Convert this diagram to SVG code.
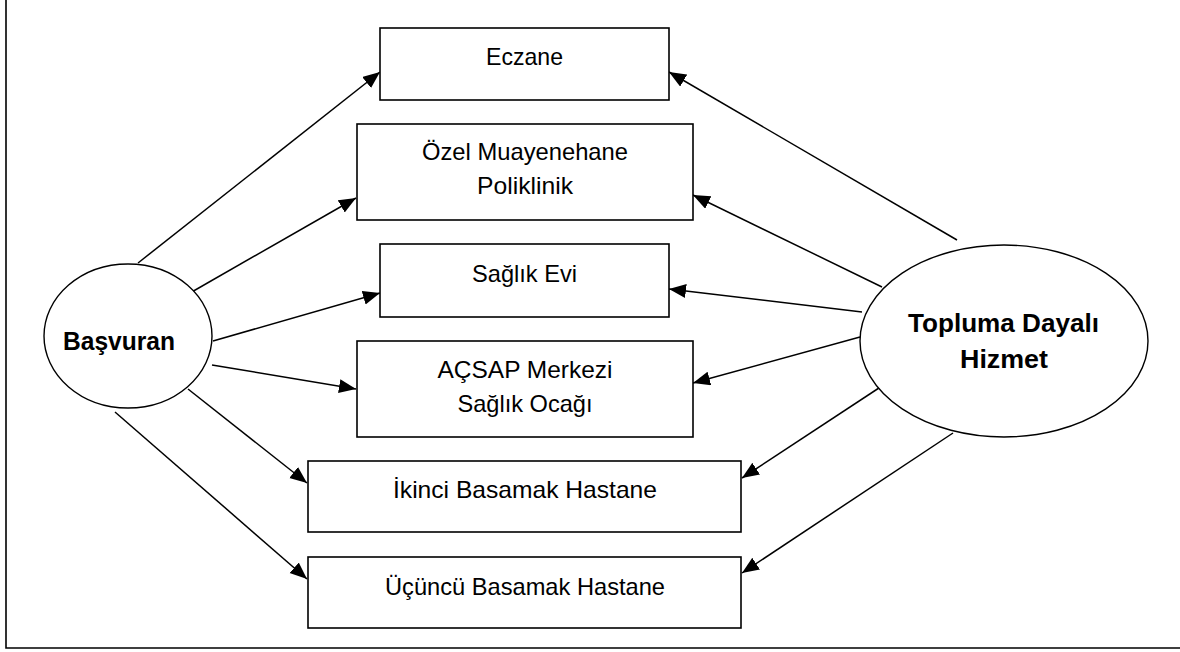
<svg xmlns="http://www.w3.org/2000/svg" width="1180" height="652" viewBox="0 0 1180 652">
<style>
.box{fill:#fff;stroke:#000;stroke-width:1.6}
.ell{fill:#fff;stroke:#000;stroke-width:1.4}
.lbl{font-family:"Liberation Sans",Arial,sans-serif;font-size:24px;fill:#000;text-anchor:middle}
.bold{font-family:"Liberation Sans",Arial,sans-serif;font-size:26px;font-weight:bold;fill:#000;text-anchor:middle}
.con{stroke:#000;stroke-width:1.5;fill:none;marker-end:url(#arr)}
.frame{fill:none;stroke:#000;stroke-width:1.6}
</style>
<defs>
<marker id="arr" markerUnits="userSpaceOnUse" markerWidth="18" markerHeight="15" refX="17" refY="7" orient="auto">
<path d="M0,0 L17,7 L0,14 z" fill="#000"/>
</marker>
</defs>
<rect x="0" y="0" width="1180" height="652" fill="#fff"/>
<polyline class="frame" points="6,0 6,648 1180,648"/>

<g id="connectors">
<line class="con" x1="138" y1="263" x2="380" y2="72"/>
<line class="con" x1="190" y1="293" x2="356" y2="198"/>
<line class="con" x1="213" y1="341" x2="380" y2="293"/>
<line class="con" x1="212" y1="365" x2="356" y2="389"/>
<line class="con" x1="188" y1="389" x2="307" y2="483"/>
<line class="con" x1="115" y1="412" x2="307" y2="579"/>
<line class="con" x1="957" y1="240" x2="669" y2="72"/>
<line class="con" x1="882" y1="287" x2="693" y2="195"/>
<line class="con" x1="862" y1="312" x2="669" y2="289"/>
<line class="con" x1="860" y1="337" x2="693" y2="383"/>
<line class="con" x1="885" y1="384" x2="742" y2="478"/>
<line class="con" x1="953" y1="433" x2="742" y2="573"/>
</g>

<g id="eczane">
<rect class="box" x="380" y="28" width="289" height="72"/>
<text class="lbl" x="524.5" y="65" textLength="77" lengthAdjust="spacingAndGlyphs">Eczane</text>
</g>
<g id="ozel">
<rect class="box" x="357" y="124" width="336" height="96"/>
<text class="lbl" x="525" y="160" textLength="206" lengthAdjust="spacingAndGlyphs">Özel Muayenehane</text>
<text class="lbl" x="525" y="194" textLength="96" lengthAdjust="spacingAndGlyphs">Poliklinik</text>
</g>
<g id="saglikevi">
<rect class="box" x="380" y="244" width="289" height="73"/>
<text class="lbl" x="524.5" y="282" textLength="105" lengthAdjust="spacingAndGlyphs">Sağlık Evi</text>
</g>
<g id="acsap">
<rect class="box" x="357" y="341" width="336" height="96"/>
<text class="lbl" x="525" y="378" textLength="175" lengthAdjust="spacingAndGlyphs">AÇSAP Merkezi</text>
<text class="lbl" x="525" y="412" textLength="135" lengthAdjust="spacingAndGlyphs">Sağlık Ocağı</text>
</g>
<g id="ikinci">
<rect class="box" x="308" y="461" width="433" height="71"/>
<text class="lbl" x="525" y="498" textLength="264" lengthAdjust="spacingAndGlyphs">İkinci Basamak Hastane</text>
</g>
<g id="ucuncu">
<rect class="box" x="308" y="557" width="433" height="71"/>
<text class="lbl" x="525" y="595" textLength="280" lengthAdjust="spacingAndGlyphs">Üçüncü Basamak Hastane</text>
</g>
<g id="basvuran">
<ellipse class="ell" cx="128" cy="336" rx="84" ry="72"/>
<text class="bold" x="119" y="350" textLength="112" lengthAdjust="spacingAndGlyphs">Başvuran</text>
</g>
<g id="topluma">
<ellipse class="ell" cx="1004" cy="341" rx="144" ry="96"/>
<text class="bold" x="1003.5" y="332" textLength="191" lengthAdjust="spacingAndGlyphs">Topluma Dayalı</text>
<text class="bold" x="1004" y="368" textLength="88" lengthAdjust="spacingAndGlyphs">Hizmet</text>
</g>
</svg>
